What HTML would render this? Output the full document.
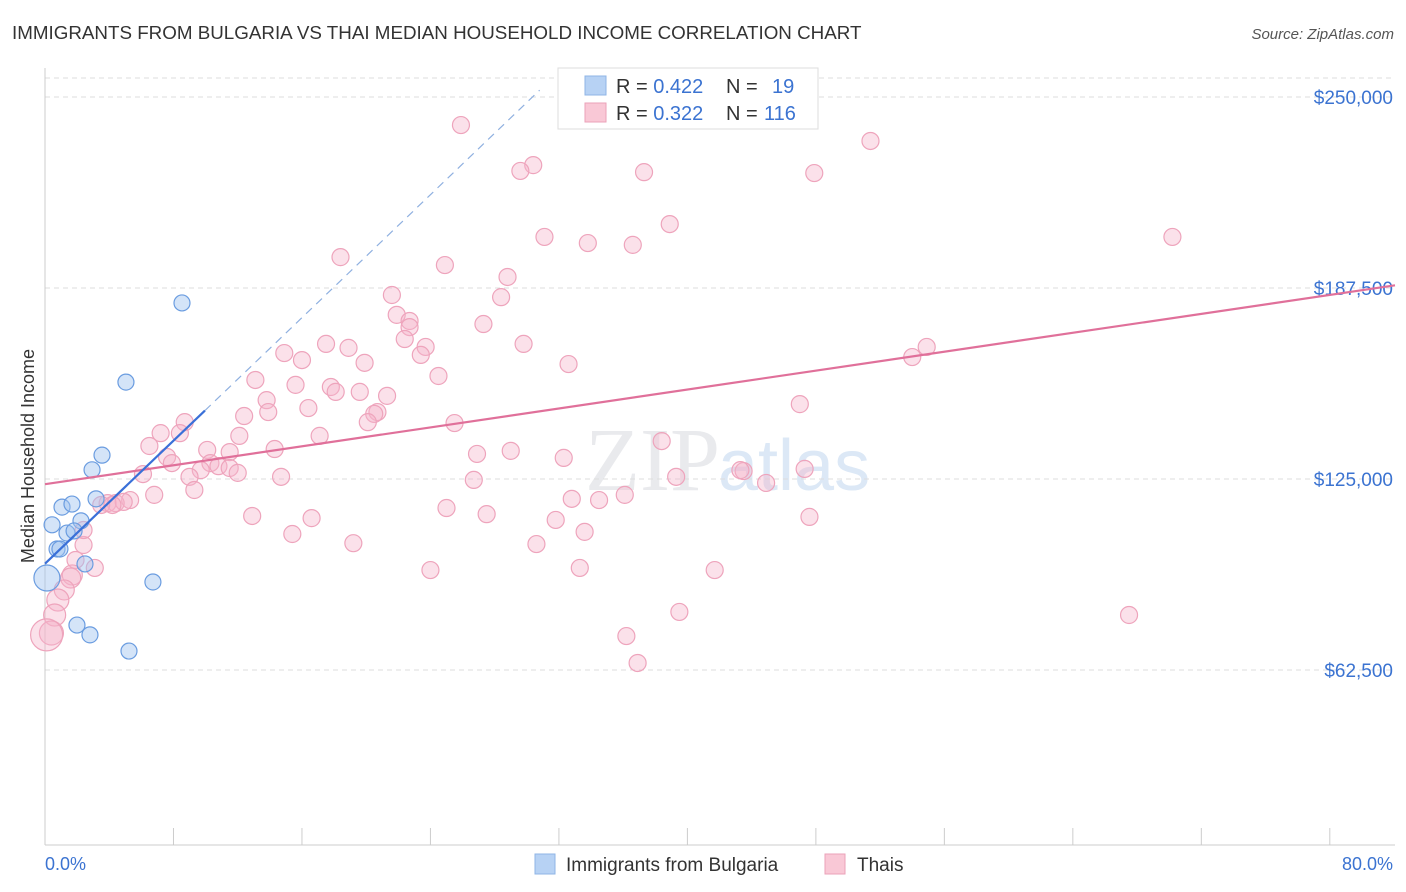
<!DOCTYPE html>
<html><head><meta charset="utf-8">
<style>
body{margin:0;background:#fff;font-family:"Liberation Sans",sans-serif;}
#wrap{position:relative;width:1406px;height:892px;overflow:hidden;}
</style></head>
<body>
<div id="wrap">
<svg id="svg" width="1406" height="892" xmlns="http://www.w3.org/2000/svg">
<text x="12" y="39" font-size="18.8" fill="#333">IMMIGRANTS FROM BULGARIA VS THAI MEDIAN HOUSEHOLD INCOME CORRELATION CHART</text>
<text x="1394" y="39" font-size="15" fill="#555" font-style="italic" text-anchor="end">Source: ZipAtlas.com</text>
<text x="720" y="490" font-size="90" fill="#e9eaed" text-anchor="end" font-family="Liberation Serif">ZIP</text>
<text x="718" y="490" font-size="72" fill="#dce8f6">atlas</text>
<text transform="translate(34,456) rotate(-90)" font-size="18" fill="#333" text-anchor="middle">Median Household Income</text>
<g id="grid"></g><g id="marks"></g>
<text x="45" y="870" font-size="18" fill="#3b73d1">0.0%</text>
<text x="1393" y="870" font-size="18" fill="#3b73d1" text-anchor="end">80.0%</text>
<g>
<rect x="558" y="68" width="260" height="61" fill="#fff" stroke="#ddd"/>
<rect x="585" y="76" width="21" height="19" fill="#b7d2f4" stroke="#8fb4e6"/>
<rect x="585" y="103" width="21" height="19" fill="#f9c8d6" stroke="#eba2b8"/>
<text x="616" y="93" font-size="20" fill="#333">R = <tspan fill="#3b73d1">0.422</tspan><tspan x="726">N = </tspan><tspan x="772" fill="#3b73d1">19</tspan></text>
<text x="616" y="120" font-size="20" fill="#333">R = <tspan fill="#3b73d1">0.322</tspan><tspan x="726">N = </tspan><tspan x="764" fill="#3b73d1">116</tspan></text>
</g>
<g>
<rect x="535" y="854" width="20" height="20" fill="#b7d2f4" stroke="#8fb4e6"/>
<text x="566" y="871" font-size="19" fill="#333">Immigrants from Bulgaria</text>
<rect x="825" y="854" width="20" height="20" fill="#f9c8d6" stroke="#eba2b8"/>
<text x="857" y="871" font-size="19" fill="#333">Thais</text>
</g>
</svg>
</div>
<script>
const yTicks=[62500,125000,187500,250000];
const yTickLabels=["$62,500","$125,000","$187,500","$250,000"];
const xTicks=[0,8,16,24,32,40,48,56,64,72,80];
const blueX=[0.44,1.06,1.68,1.37,0.75,0.93,2.24,1.81,2.49,3.18,2.93,3.55,5.04,8.53,6.72,1.99,2.80,5.23,0.12];
const blueY=[110.0,115.8,116.8,107.3,102.1,102.1,111.3,108.0,97.2,118.5,128.0,132.8,156.7,182.6,91.3,77.2,74.0,68.7,92.6];
const pinkX=[25.9,30.4,29.6,37.3,47.9,51.4,38.9,31.1,33.8,36.6,70.2,18.4,24.9,28.8,21.6,28.4,21.9,22.7,22.7,27.3,22.4,23.7,23.4,29.8,17.5,18.9,14.9,16.0,19.9,32.6,24.5,13.1,15.6,17.8,18.1,19.6,21.3,13.8,16.4,13.9,20.7,20.5,12.4,20.1,25.5,8.7,8.4,7.2,12.1,17.1,6.5,14.3,10.1,11.5,38.4,7.6,7.9,10.3,10.8,11.5,9.7,12.0,26.9,29.0,32.3,9.0,6.1,14.7,26.7,39.3,43.5,44.9,47.3,9.3,6.8,5.3,3.9,4.4,4.9,3.5,4.2,32.8,34.5,36.1,25.0,27.5,12.9,16.6,31.8,47.6,33.6,15.4,30.6,19.2,2.4,2.4,1.9,3.1,24.0,33.3,41.7,1.7,1.6,1.2,0.8,0.6,0.4,0.1,67.5,39.5,36.2,36.9,47.0,54.0,54.9,43.3];
const pinkY=[240.8,227.7,225.8,225.4,225.1,235.6,208.4,204.2,202.2,201.6,204.2,197.6,195.0,191.1,185.2,184.5,178.7,176.7,174.7,175.7,170.8,168.2,165.6,169.2,169.2,167.9,166.2,163.9,163.0,162.6,158.7,157.4,155.8,155.1,153.5,153.5,152.2,150.8,148.2,146.9,146.9,146.3,145.6,143.6,143.3,143.6,140.0,140.0,139.1,139.1,135.8,134.8,134.5,133.8,137.4,132.2,130.2,130.2,129.2,128.6,127.9,127.0,133.2,134.2,131.9,125.7,126.6,125.7,124.7,125.7,127.6,123.7,128.3,121.4,119.8,118.1,117.1,117.1,117.5,116.5,116.5,118.5,118.1,119.8,115.5,113.5,112.9,112.2,111.6,112.6,107.7,107.0,103.7,104.0,103.4,108.3,98.5,95.9,95.2,95.9,95.2,93.6,92.6,88.7,85.4,80.5,74.6,74.0,80.5,81.5,73.6,64.8,149.5,164.9,168.2,127.9];
const blueTrend=[97.3,5.03];
const pinkTrend=[123.3,0.774];
const NS="http://www.w3.org/2000/svg";
const X=v=>45+v*16.06;
const Y=k=>670-(k*1000-62500)/327.2;
function mk(t,a,p){const e=document.createElementNS(NS,t);for(const k in a)e.setAttribute(k,a[k]);p.appendChild(e);return e;}
const grid=document.getElementById('grid'),marks=document.getElementById('marks');
mk('line',{x1:45,y1:78,x2:1395,y2:78,stroke:'#ddd','stroke-dasharray':'5,4'},grid);
yTicks.forEach((t,i)=>{const y=Y(t/1000);
const l=mk('line',{x1:45,y1:y,x2:1395,y2:y,stroke:'#ddd','stroke-dasharray':'5,4'},grid);


const tx=mk('text',{x:1393,y:y+7,'font-size':19,fill:'#3b73d1','text-anchor':'end'},grid);tx.textContent=yTickLabels[i];

});
mk('line',{x1:45,y1:68,x2:45,y2:845,stroke:'#ccc'},grid);
mk('line',{x1:45,y1:845,x2:1395,y2:845,stroke:'#ccc'},grid);
xTicks.forEach(t=>{const l=mk('line',{x1:X(t),y1:828,x2:X(t),y2:845,stroke:'#ccc'},grid);

});
const big={107:16,106:12,105:11,104:11,103:10,102:10,101:10};
pinkX.forEach((x,i)=>{const c=mk('circle',{cx:X(x),cy:Y(pinkY[i]),r:big[i]||8.5,fill:'rgba(246,180,202,0.4)',stroke:'#eea4bc','stroke-width':1.2},marks);

});
blueX.forEach((x,i)=>{const c=mk('circle',{cx:X(x),cy:Y(blueY[i]),r:i==18?13:8,fill:'rgba(160,196,240,0.45)',stroke:'#6a9ce0','stroke-width':1.2},marks);

});
const pt=mk('line',{x1:X(0),y1:Y(pinkTrend[0]),x2:X(84.06),y2:Y(pinkTrend[0]+pinkTrend[1]*84.06),stroke:'#e0709a','stroke-width':2.2},marks);


const bt=mk('line',{x1:X(0),y1:Y(blueTrend[0]),x2:X(9.96),y2:Y(blueTrend[0]+blueTrend[1]*9.96),stroke:'#3a70d8','stroke-width':2.2},marks);


const bd=mk('line',{x1:X(9.96),y1:Y(blueTrend[0]+blueTrend[1]*9.96),x2:X(30.8),y2:Y(blueTrend[0]+blueTrend[1]*30.8),stroke:'#8fb0e0','stroke-width':1.2,'stroke-dasharray':'8,6'},marks);


</script>
</body></html>
